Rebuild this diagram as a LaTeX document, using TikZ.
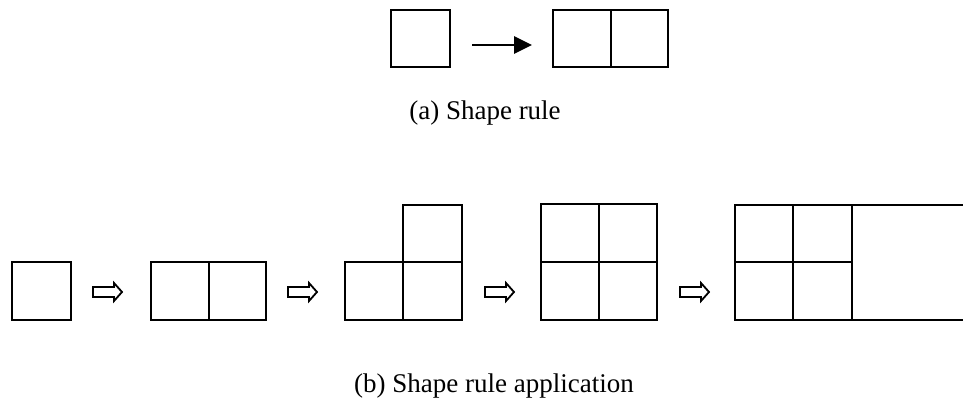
\documentclass[tikz,border=0pt]{standalone}
\usepackage{fontspec}
\setmainfont{Liberation Serif}
\usetikzlibrary{arrows.meta}
\begin{document}
\begin{tikzpicture}[x=1pt,y=-1pt,
  shapeline/.style={line width=2.8pt,line join=miter},
  hollowarrow/.style={line width=1.8pt,line join=miter},
  caption/.style={font=\fontsize{27}{31}\selectfont,inner sep=0pt}]
\useasboundingbox (0,0) rectangle (963,414);
% (a) shape rule
\draw[shapeline] (391,10) rectangle (450,67);
\draw[shapeline] (553,10) rectangle (668,67);
\draw[shapeline] (611,10) -- (611,67);
\coordinate (a1) at (472,45);
\coordinate (a2) at (532,45);
\draw[line width=2.8pt,-{Triangle[length=18pt,width=17pt]}] (a1) -- (a2);
\node[caption] (capa) at (485,113) {(a) Shape rule};
% (b) application
\draw[shapeline] (12,262) rectangle (71,320);
\draw[shapeline] (151,262) rectangle (266,320);
\draw[shapeline] (209,262) -- (209,320);
\draw[shapeline] (345,262) rectangle (462,320);
\draw[shapeline] (403,205) rectangle (462,320);
\draw[shapeline] (541,204) rectangle (657,320);
\draw[shapeline] (599,204) -- (599,320);
\draw[shapeline] (541,262) -- (657,262);
\draw[shapeline] (963,205) -- (735,205) -- (735,320) -- (963,320);
\draw[shapeline] (793,205) -- (793,320);
\draw[shapeline] (852,205) -- (852,320);
\draw[shapeline] (735,262) -- (852,262);
% hollow arrows
\foreach \xo [count=\i] in {93,288,485,680}{
  \coordinate (h\i) at (\xo,292);
  \draw[hollowarrow] ([shift={(0,-5)}]h\i) -- ++(21,0) -- ++(0,-4) -- ++(8,9)
     -- ++(-8,9) -- ++(0,-4) -- ++(-21,0) -- cycle;
}
\node[caption] (capb) at (494,386) {(b) Shape rule application};
\end{tikzpicture}
\end{document}
